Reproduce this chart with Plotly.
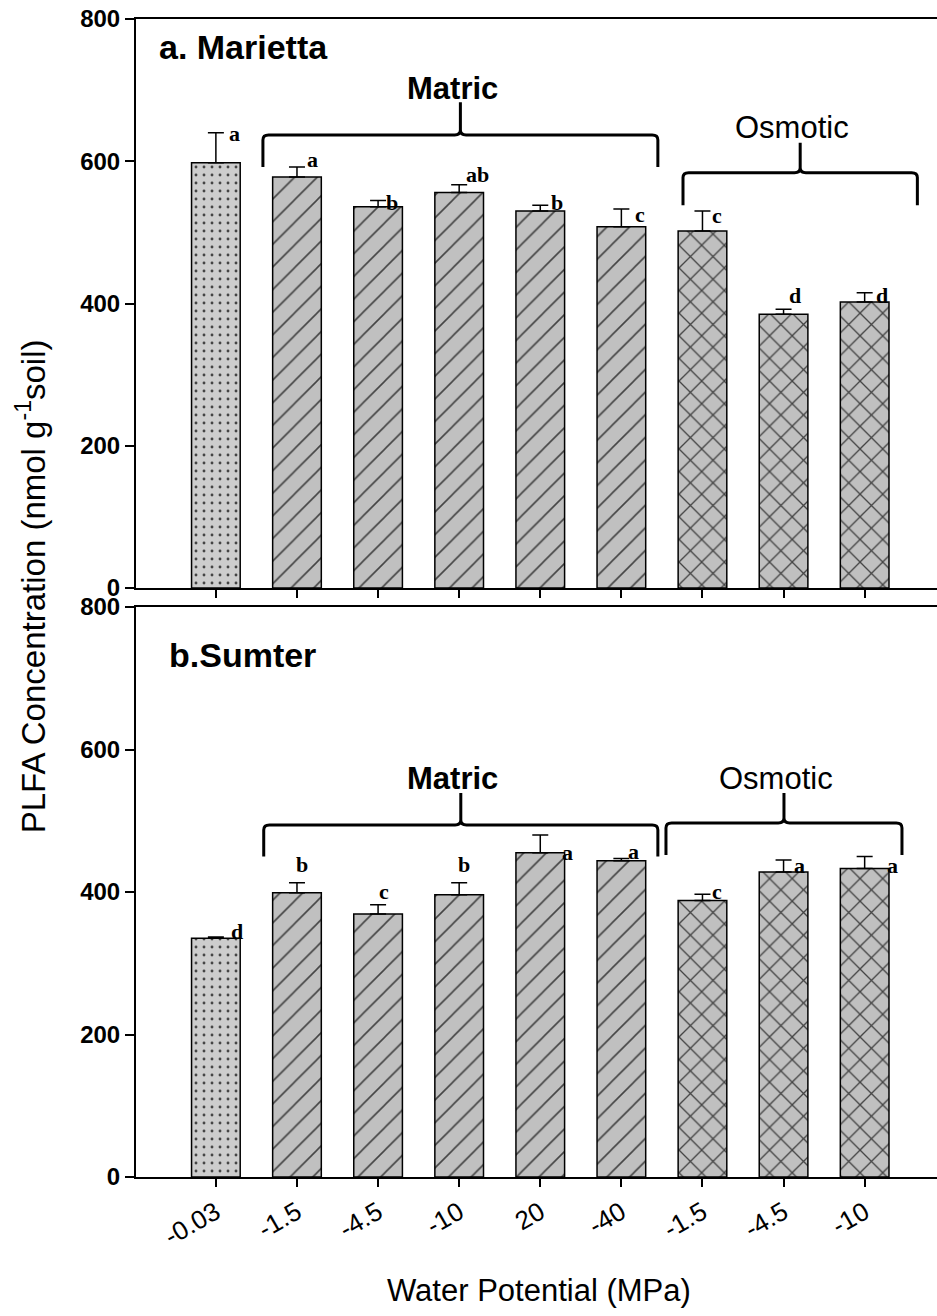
import plotly.graph_objects as go

# Water potential treatments (x categories) and treatment group of each bar
tick_labels = ["-0.03", "-1.5", "-4.5", "-10", "20", "-40", "-1.5", "-4.5", "-10"]
groups = ["control", "matric", "matric", "matric", "matric", "matric",
          "osmotic", "osmotic", "osmotic"]

# Panel a: Marietta soil, PLFA (nmol g-1 soil) with standard errors and letters
marietta_mean = [598, 578, 536, 556, 530, 508, 502, 385, 402]
marietta_se = [42, 14, 9, 11, 8, 25, 28, 7, 13]
marietta_letters = ["a", "a", "b", "ab", "b", "c", "c", "d", "d"]

# Panel b: Sumter soil
sumter_mean = [335, 399, 369, 396, 455, 444, 388, 428, 433]
sumter_se = [2, 14, 13, 17, 25, 3, 9, 17, 17]
sumter_letters = ["d", "b", "c", "b", "a", "a", "c", "a", "a"]

# letter placement relative to the top of each error bar (pixels)
marietta_letter_dx = [19, 16, 14, 18, 17, 19, 15, 11, 17]
marietta_letter_dy = [-1, 7, -2, 10, 3, -6, -4, 14, -3]
sumter_letter_dx = [21, 5, 6, 5, 27, 12, 15, 16, 28]
sumter_letter_dy = [5, 18, 13, 18, -17, 7, 3, -6, -9]

# group braces: (label, left, right, end, bar, tip, label y, bold label)
marietta_braces = [("Matric", 0.58, 5.45, 592, 637, 683, 703, True),
                   ("Osmotic", 5.76, 8.65, 538, 584, 626, 647, False)]
sumter_braces = [("Matric", 0.59, 5.45, 450, 494, 539, 560, True),
                 ("Osmotic", 5.55, 8.46, 452, 497, 539, 560, False)]

style = {
    "control": dict(shape=".", size=8, solidity=0.1, fg="#444444", fill="#cdcdcd"),
    "matric": dict(shape="/", size=16, solidity=0.1, fg="#000000", fill="#c0c0c0"),
    "osmotic": dict(shape="x", size=16, solidity=0.16, fg="#000000", fill="#c0c0c0"),
}

xpos = list(range(len(tick_labels)))
SANS = "Liberation Sans, Arial, sans-serif"
SERIF = "Liberation Serif, Times New Roman, serif"

fig = go.Figure()


def add_panel(means, ses, xa, ya):
    fig.add_trace(go.Bar(
        x=xpos, y=means, width=0.6,
        marker=dict(
            color=[style[g]["fill"] for g in groups],
            line=dict(color="black", width=1.5),
            pattern=dict(
                shape=[style[g]["shape"] for g in groups],
                size=[style[g]["size"] for g in groups],
                solidity=[style[g]["solidity"] for g in groups],
                fgcolor=[style[g]["fg"] for g in groups],
                fgopacity=1,
                fillmode="overlay",
            ),
        ),
        error_y=dict(type="data", symmetric=False, array=ses,
                     arrayminus=[0] * len(ses), color="black",
                     thickness=1.5, width=8),
        xaxis=xa, yaxis=ya, showlegend=False, hoverinfo="skip",
    ))


add_panel(marietta_mean, marietta_se, "x", "y")
add_panel(sumter_mean, sumter_se, "x2", "y2")

annotations = []


def add_letters(means, ses, letters, dxs, dys, xref, yref):
    for i, (m, s, t, dx, dy) in enumerate(zip(means, ses, letters, dxs, dys)):
        annotations.append(dict(
            x=i, y=m + s, xref=xref, yref=yref, text=t, showarrow=False,
            xshift=dx, yshift=dy, xanchor="center", yanchor="middle",
            font=dict(family=SERIF, size=22, color="black", weight="bold"),
        ))


add_letters(marietta_mean, marietta_se, marietta_letters,
            marietta_letter_dx, marietta_letter_dy, "x", "y")
add_letters(sumter_mean, sumter_se, sumter_letters,
            sumter_letter_dx, sumter_letter_dy, "x2", "y2")

shapes = []


def brace_path(x0, x1, yb, yh, yt, rx=0.07, ry=7):
    xm = (x0 + x1) / 2
    return (f"M{x0},{yb} L{x0},{yh - ry} Q{x0},{yh} {x0 + rx},{yh} "
            f"L{xm - rx},{yh} Q{xm},{yh} {xm},{yh + ry} L{xm},{yt} "
            f"M{xm},{yh + ry} Q{xm},{yh} {xm + rx},{yh} "
            f"L{x1 - rx},{yh} Q{x1},{yh} {x1},{yh - ry} L{x1},{yb}")


def add_braces(braces, xref, yref):
    for label, x0, x1, yb, yh, yt, ly, bold in braces:
        shapes.append(dict(type="path", path=brace_path(x0, x1, yb, yh, yt),
                           xref=xref, yref=yref,
                           line=dict(color="black", width=3)))
        annotations.append(dict(
            x=(x0 + x1) / 2 - 0.1, y=ly, xref=xref, yref=yref, text=label,
            showarrow=False, xanchor="center", yanchor="middle",
            font=dict(family=SANS, size=31, color="black",
                      weight="bold" if bold else "normal"),
        ))


add_braces(marietta_braces, "x", "y")
add_braces(sumter_braces, "x2", "y2")

# panel titles
annotations.append(dict(x=0.026, y=760, xref="paper", yref="y", text="a. Marietta",
                        showarrow=False, xanchor="left", yanchor="middle",
                        font=dict(family=SANS, size=34, color="black", weight="bold")))
annotations.append(dict(x=0.039, y=733, xref="paper", yref="y2", text="b.Sumter",
                        showarrow=False, xanchor="left", yanchor="middle",
                        font=dict(family=SANS, size=34, color="black", weight="bold")))

# axis titles
annotations.append(dict(x=0.503, y=-0.0976, xref="paper", yref="paper",
                        text="Water Potential (MPa)", showarrow=False,
                        xanchor="center", yanchor="middle",
                        font=dict(family=SANS, size=31, color="black")))
annotations.append(dict(x=-0.13, y=0.51, xref="paper", yref="paper",
                        text="PLFA Concentration (nmol g<sup>-1</sup>soil)",
                        textangle=-90, showarrow=False,
                        xanchor="center", yanchor="middle",
                        font=dict(family=SANS, size=33, color="black")))

xcommon = dict(range=[-0.985, 8.892], tickvals=xpos, ticktext=tick_labels,
               ticks="outside", ticklen=8, tickwidth=2, tickcolor="black",
               showline=True, linewidth=2, linecolor="black", mirror=True,
               showgrid=False, zeroline=False)
ycommon = dict(range=[0, 800], tickvals=[0, 200, 400, 600, 800],
               ticks="outside", ticklen=9, tickwidth=2, tickcolor="black",
               showline=True, linewidth=2, linecolor="black",
               showgrid=False, zeroline=False,
               tickfont=dict(family=SANS, size=24, color="black", weight="bold"))

fig.update_layout(
    width=937, height=1316,
    margin=dict(l=136, r=0, t=19, b=139),
    paper_bgcolor="white", plot_bgcolor="white",
    bargap=0.4,
    xaxis=dict(domain=[0, 1], anchor="y", showticklabels=False, **xcommon),
    yaxis=dict(domain=[0.5086, 1], anchor="x", **ycommon),
    xaxis2=dict(domain=[0, 1], anchor="y2", showticklabels=True, tickangle=-30,
                tickfont=dict(family=SANS, size=26, color="black"), **xcommon),
    yaxis2=dict(domain=[0, 0.4922], anchor="x2", **ycommon),
    annotations=annotations,
    shapes=shapes,
)

fig.write_html("out.html")
